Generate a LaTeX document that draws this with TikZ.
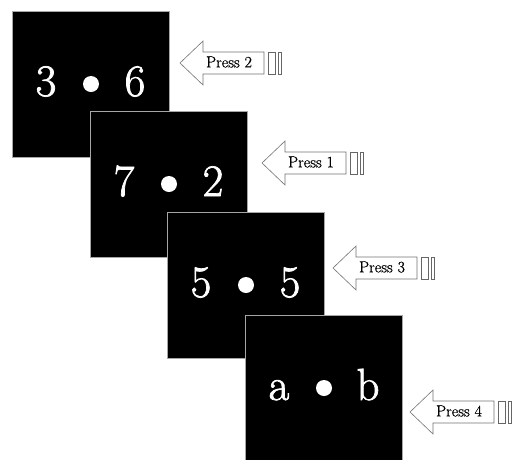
\documentclass[tikz,border=0pt]{standalone}
\usepackage{fontspec}
\usetikzlibrary{calc}
\newfontfamily\signfont[FakeBold=1.6]{Latin Modern Roman}
\newfontfamily\labelfont[FakeBold=0.6]{Latin Modern Roman}
\begin{document}
\begin{tikzpicture}[x=1pt,y=-1pt,
  screen/.style={fill=black,draw=black!35,line width=0.6pt,anchor=north west,
    minimum width=157pt,minimum height=146pt,inner sep=0pt,outer sep=0pt},
  glyph/.style={text=white,font=\signfont\fontsize{45}{45}\selectfont,anchor=base,inner sep=0pt},
  fixdot/.style={fill=white,circle,minimum size=16pt,inner sep=0pt},
  arrowline/.style={draw=black!55,line width=0.6pt,fill=white,line join=miter},
  barline/.style={draw=black!60,line width=0.7pt,fill=white},
  presslabel/.style={font=\labelfont\fontsize{16}{16}\selectfont,inner sep=0pt}]
\useasboundingbox (0,0) rectangle (517,459);

% one stimulus screen: name, top-left x, top-left y, left sign, right sign
\newcommand\stimscreen[5]{%
  \node[screen] (#1) at (#2,#3) {};
  \node[glyph] (#1l) at (#2+34,#3+85) {#4};
  \node[fixdot] (#1d) at (#2+79,#3+73) {};
  \node[glyph] (#1r) at (#2+123,#3+85) {#5};
}

% response arrow pointing left: name, tip x, tip y, label
\newcommand\pressarrow[4]{%
  \coordinate (#1) at (#2,#3);
  \draw[arrowline] (#1) -- ++(23,-22) -- ++(0,11) -- ++(61,0) -- ++(0,22)
    -- ++(-61,0) -- ++(0,11) -- cycle;
  \draw[barline] ($(#1)+(88,-11)$) rectangle ++(7,22);
  \draw[barline] ($(#1)+(98,-11)$) rectangle ++(3,22);
  \node[presslabel] (#1t) at ($(#1)+(49,-1)$) {#4};
}

\stimscreen{s1}{12}{11}{3}{6}
\stimscreen{s2}{90}{111}{7}{2}
\stimscreen{s3}{167}{212}{5}{5}
\stimscreen{s4}{245}{315}{a}{b}

\pressarrow{p1}{180}{63}{Press 2}
\pressarrow{p2}{262}{163}{Press 1}
\pressarrow{p3}{333}{268}{Press 3}
\pressarrow{p4}{410}{412}{Press 4}
\end{tikzpicture}
\end{document}
